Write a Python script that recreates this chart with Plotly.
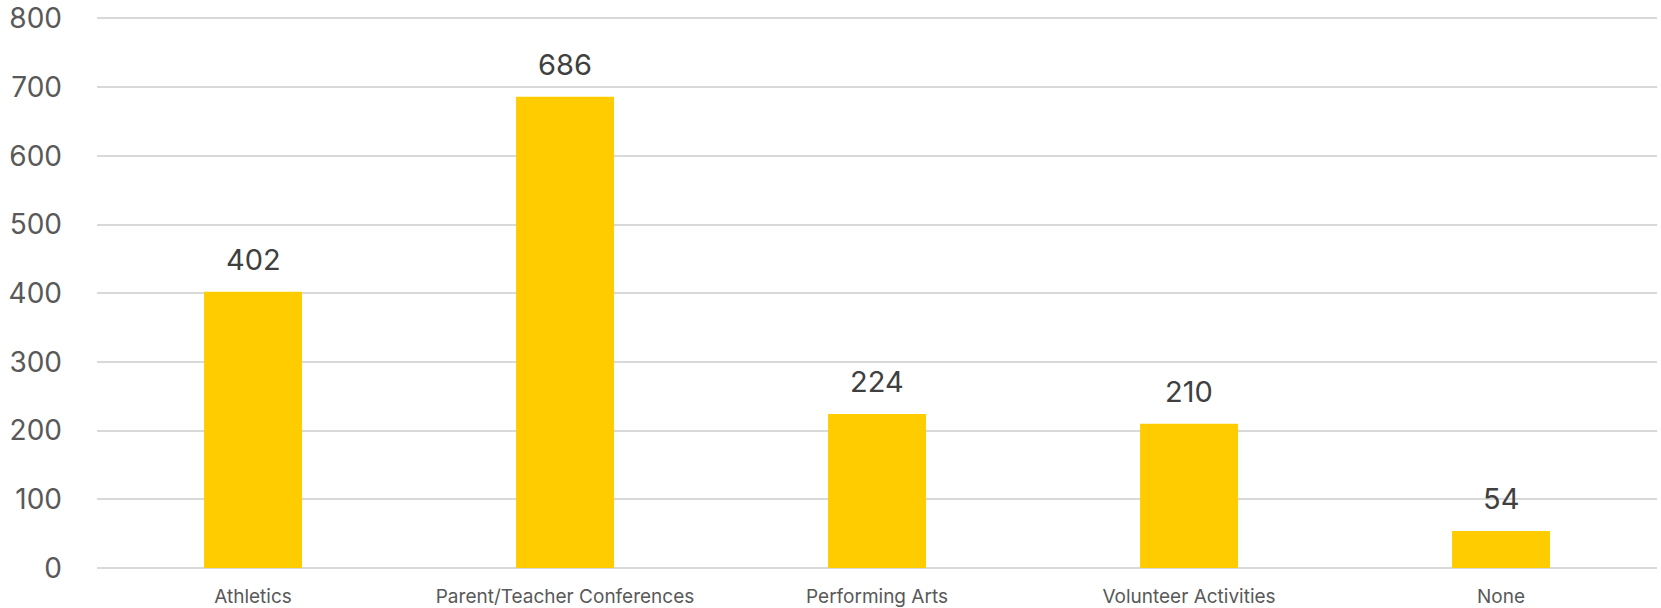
import plotly.graph_objects as go

categories = ["Athletics", "Parent/Teacher Conferences", "Performing Arts", "Volunteer Activities", "None"]
values = [402, 686, 224, 210, 54]
y_ticks = [0, 100, 200, 300, 400, 500, 600, 700, 800]

FONT = "Inter, 'Noto Sans', sans-serif"

fig = go.Figure()
fig.add_trace(go.Bar(
    x=categories, y=values,
    marker=dict(color="#FFCC00", line=dict(width=0)),
    hoverinfo="x+y",
))

for c, v in zip(categories, values):
    fig.add_annotation(
        x=c, y=v, text=str(v), showarrow=False,
        yanchor="bottom", yshift=13,
        font=dict(family=FONT, size=29, color="#404040"),
    )

fig.update_layout(
    width=1661, height=608,
    margin=dict(l=97, r=4, t=15, b=40),
    plot_bgcolor="white", paper_bgcolor="white",
    bargap=0.686,
    showlegend=False,
    font=dict(family=FONT),
)
fig.update_xaxes(
    showgrid=False, showline=False, zeroline=False, automargin=False,
    ticks="", ticklabelstandoff=15,
    tickfont=dict(family=FONT, size=19, color="#595959"),
)
fig.update_yaxes(
    range=[0, 805], tickvals=y_ticks, automargin=False,
    showgrid=True, gridcolor="#D9D9D9", gridwidth=1.5,
    zeroline=True, zerolinecolor="#D9D9D9", zerolinewidth=1.5,
    showline=False, ticks="", ticklabelstandoff=34,
    tickfont=dict(family=FONT, size=28, color="#595959"),
)

fig.write_html(
    "out.html",
    config={"displayModeBar": False},
    post_script="document.body.style.margin='0';document.body.style.overflow='hidden';",
)
